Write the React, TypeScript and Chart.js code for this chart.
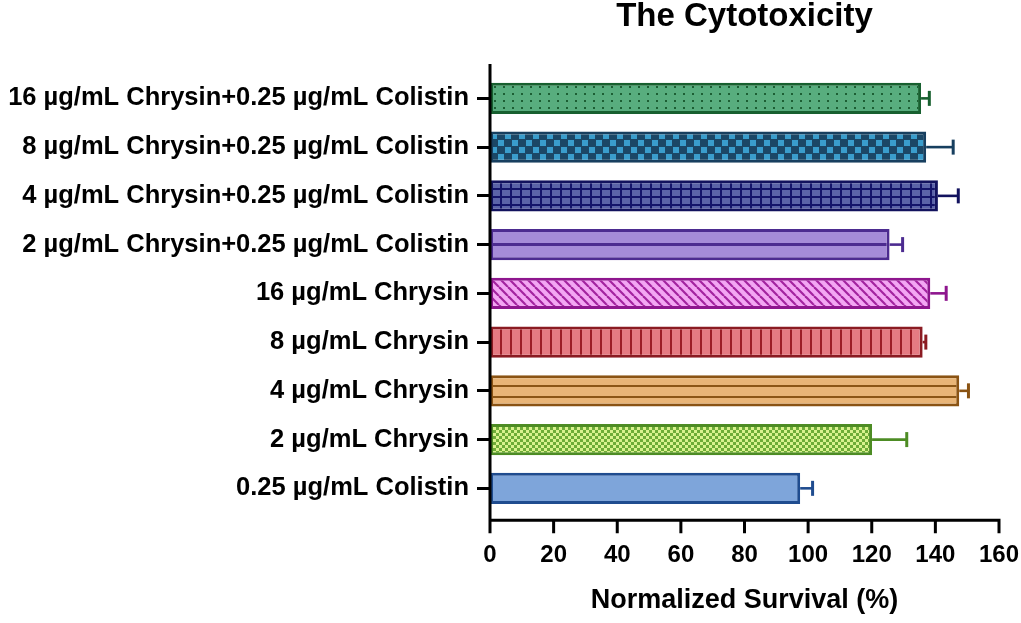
import React, { useEffect, useRef } from 'react';
import { Chart, registerables } from 'chart.js';

Chart.register(...registerables);

// groups, top to bottom as in the figure
const groups = [
  '16 µg/mL Chrysin+0.25 µg/mL Colistin',
  '8 µg/mL Chrysin+0.25 µg/mL Colistin',
  '4 µg/mL Chrysin+0.25 µg/mL Colistin',
  '2 µg/mL Chrysin+0.25 µg/mL Colistin',
  '16 µg/mL Chrysin',
  '8 µg/mL Chrysin',
  '4 µg/mL Chrysin',
  '2 µg/mL Chrysin',
  '0.25 µg/mL Colistin',
];
const survival = [135.5, 137.1, 140.8, 125.6, 138.4, 136.0, 147.5, 120.1, 97.5];
const errorUp = [2.6, 8.5, 6.4, 4.1, 5.0, 1.0, 2.9, 10.9, 3.9];
const xTickValues = [0, 20, 40, 60, 80, 100, 120, 140, 160];

const edgeColors = [
  '#17602f', '#173f5f', '#12125e', '#4c2b90', '#8e168e',
  '#8b1b22', '#8a5313', '#4d8c24', '#1f4c8f',
];

const FONT = '"Liberation Sans", Arial, sans-serif';

type Painter = (g: CanvasRenderingContext2D, w: number, h: number) => void;

function tile(w: number, h: number, paint: Painter): CanvasPattern {
  const c = document.createElement('canvas');
  c.width = w;
  c.height = h;
  const g = c.getContext('2d')!;
  paint(g, w, h);
  return g.createPattern(c, 'repeat')!;
}

function buildPatterns(): (CanvasPattern | string)[] {
  return [
    // dotted green
    tile(9, 7, (g, w, h) => {
      g.fillStyle = '#58ad7e';
      g.fillRect(0, 0, w, h);
      g.fillStyle = '#1c5e33';
      g.fillRect(4, 3, 2, 2);
    }),
    // teal checker
    tile(14, 14, (g, w, h) => {
      g.fillStyle = '#1b4766';
      g.fillRect(0, 0, w, h);
      g.fillStyle = '#3a9dcc';
      g.fillRect(1, 1, 6, 6);
      g.fillRect(8, 8, 6, 6);
    }),
    // navy grid
    tile(10, 8, (g, w, h) => {
      g.fillStyle = '#5b63a8';
      g.fillRect(0, 0, w, h);
      g.fillStyle = '#14146a';
      g.fillRect(0, 0, 2, h);
      g.fillRect(0, 0, w, 2);
    }),
    // purple, one line in the middle
    tile(4, 60, (g, w, h) => {
      g.fillStyle = '#a58bd8';
      g.fillRect(0, 0, w, h);
      g.fillStyle = '#4c2b90';
      g.fillRect(0, 14, w, 3);
    }),
    // magenta diagonal
    tile(9, 9, (g, w, h) => {
      g.fillStyle = '#f3a6f3';
      g.fillRect(0, 0, w, h);
      g.strokeStyle = '#a3239f';
      g.lineWidth = 2.2;
      for (const o of [-9, 0, 9]) {
        g.beginPath();
        g.moveTo(o, 0);
        g.lineTo(o + 9, 9);
        g.stroke();
      }
    }),
    // red vertical lines
    tile(10, 4, (g, w, h) => {
      g.fillStyle = '#e57a82';
      g.fillRect(0, 0, w, h);
      g.fillStyle = '#9c1d26';
      g.fillRect(0, 0, 2, h);
    }),
    // orange horizontal lines
    tile(4, 60, (g, w, h) => {
      g.fillStyle = '#e9b577';
      g.fillRect(0, 0, w, h);
      g.fillStyle = '#8c5616';
      g.fillRect(0, 10, w, 2);
      g.fillRect(0, 21, w, 2);
    }),
    // fine green checker
    tile(6, 6, (g, w, h) => {
      g.fillStyle = '#6eac37';
      g.fillRect(0, 0, w, h);
      g.fillStyle = '#d9f28e';
      g.fillRect(0, 0, 3, 3);
      g.fillRect(3, 3, 3, 3);
    }),
    '#7ea5da',
  ];
}

const App: React.FC = () => {
  const canvasRef = useRef<HTMLCanvasElement | null>(null);

  useEffect(() => {
    if (!canvasRef.current) return;
    const fills = buildPatterns();

    const prismPlugin = {
      id: 'prismBits',
      beforeDatasetsDraw(chart: any) {
        // line the patterns up with the top-left of each bar
        const meta = chart.getDatasetMeta(0);
        meta.data.forEach((bar: any, i: number) => {
          const p = fills[i];
          if (typeof p !== 'string' && p.setTransform) {
            p.setTransform(new DOMMatrix().translate(chart.chartArea.left, Math.round(bar.y - bar.height / 2)));
          }
        });
      },
      afterDatasetsDraw(chart: any) {
        const ctx = chart.ctx;
        const x = chart.scales.x;
        const meta = chart.getDatasetMeta(0);
        ctx.save();
        meta.data.forEach((bar: any, i: number) => {
          const x0 = x.getPixelForValue(survival[i]);
          const x1 = x.getPixelForValue(survival[i] + errorUp[i]);
          ctx.strokeStyle = edgeColors[i];
          ctx.lineWidth = 2.6;
          ctx.beginPath();
          ctx.moveTo(x0, bar.y);
          ctx.lineTo(x1, bar.y);
          ctx.stroke();
          ctx.lineWidth = 3;
          ctx.beginPath();
          ctx.moveTo(x1, bar.y - 7.5);
          ctx.lineTo(x1, bar.y + 7.5);
          ctx.stroke();
        });
        ctx.restore();
      },
      afterDraw(chart: any) {
        const ctx = chart.ctx;
        const { left, right, top, bottom } = chart.chartArea;
        const x = chart.scales.x;
        const axisY = bottom + 7.5;
        ctx.save();
        ctx.strokeStyle = '#000';
        ctx.lineWidth = 3;
        ctx.lineCap = 'butt';
        ctx.beginPath();
        ctx.moveTo(left, top - 10);
        ctx.lineTo(left, axisY + 1.5);
        ctx.moveTo(left - 1.5, axisY);
        ctx.lineTo(right + 1.5, axisY);
        xTickValues.forEach((v) => {
          const px = x.getPixelForValue(v);
          ctx.moveTo(px, axisY);
          ctx.lineTo(px, axisY + 13);
        });
        ctx.stroke();
        ctx.restore();
      },
    };

    const chart = new Chart(canvasRef.current, {
      type: 'bar',
      data: {
        labels: groups,
        datasets: [
          {
            data: survival,
            backgroundColor: fills as any,
            borderColor: edgeColors,
            borderWidth: 3,
            borderSkipped: false,
            barPercentage: 0.64,
            categoryPercentage: 1,
          },
        ],
      },
      options: {
        indexAxis: 'y',
        responsive: false,
        animation: false,
        layout: { padding: { left: 0, right: 22, top: 0, bottom: 0 } },
        plugins: {
          legend: { display: false },
          tooltip: { enabled: false },
          title: {
            display: true,
            text: 'The Cytotoxicity',
            fullSize: false,
            color: '#000',
            font: { family: FONT, size: 33, weight: 'bold', lineHeight: 1 },
            padding: { top: 0, bottom: 41 },
          },
        },
        scales: {
          x: {
            min: 0,
            max: 160,
            afterBuildTicks: (scale: any) => {
              scale.ticks = xTickValues.map((v) => ({ value: v }));
            },
            afterFit: (scale: any) => {
              scale.height = 110.3;
              scale.paddingLeft = 0;
              scale.paddingRight = 0;
            },
            grid: { display: false, drawTicks: true, tickLength: 13 },
            border: { display: false },
            ticks: {
              color: '#000',
              padding: 15,
              maxRotation: 0,
              font: { family: FONT, size: 24, weight: 'bold' },
            },
            title: {
              display: true,
              text: 'Normalized Survival (%)',
              color: '#000',
              font: { family: FONT, size: 27, weight: 'bold' },
              padding: { top: 0, bottom: 6 },
            },
          },
          y: {
            afterFit: (scale: any) => {
              scale.width = 490;
              scale.paddingTop = 0;
              scale.paddingBottom = 0;
            },
            grid: {
              display: true,
              drawOnChartArea: false,
              drawTicks: true,
              offset: false,
              tickLength: 13,
              tickWidth: 3,
              tickColor: '#000',
              color: '#000',
            },
            border: { display: false },
            ticks: {
              color: '#000',
              padding: 8,
              font: { family: FONT, size: 25.5, weight: 'bold' },
            },
          },
        },
      },
      plugins: [prismPlugin],
    });

    return () => {
      chart.destroy();
    };
  }, []);

  return (
    <div style={{ position: 'fixed', left: 0, top: 0, width: 1021, height: 623, background: '#fff' }}>
      <canvas ref={canvasRef} width={1021} height={623} style={{ display: 'block' }} />
    </div>
  );
};

export default App;
